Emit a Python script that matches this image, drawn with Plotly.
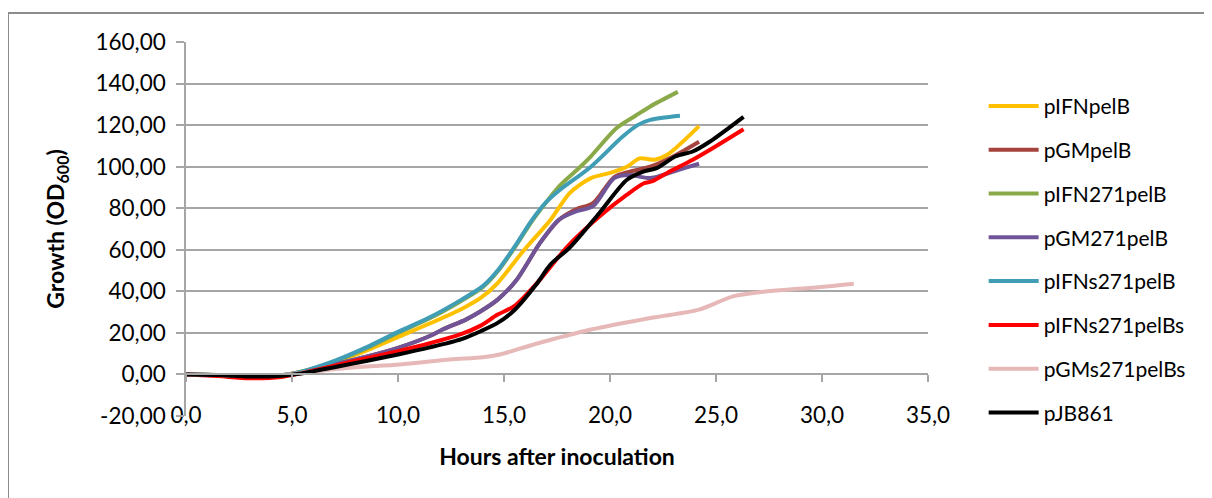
import plotly.graph_objects as go

# ---------------------------------------------------------------------
# Data (hours, OD600)
# ---------------------------------------------------------------------
series_names = [
    "pIFNpelB", "pGMpelB", "pIFN271pelB", "pGM271pelB",
    "pIFNs271pelB", "pIFNs271pelBs", "pGMs271pelBs", "pJB861",
]

t_ifn = [0, 1.5, 3, 4.5, 5.5, 7, 8.5, 10, 11.5, 13, 13.9, 14.7, 15.7, 16.1,
         17.2, 18.1, 19.1, 20, 20.8, 21.4, 22.1, 22.7, 24.2]
v_ifn = [0, -0.3, -0.8, -0.4, 1.4, 5.8, 11.5, 18, 24.5, 31.5, 36.8, 44, 56.8,
         61.7, 74.5, 87.3, 94.5, 97, 100, 104, 103.3, 105.7, 119.5]

t_gm = [0, 1.5, 3, 4.5, 5.5, 7, 8.5, 10, 11.5, 12.1, 13.2, 13.9, 14.7, 15.6,
        16.7, 17.6, 18.4, 19.2, 20.2, 20.9, 21.9, 23.0, 24.2]
v_gm = [0, -0.3, -0.9, -0.5, 1.2, 4.8, 8.5, 12.8, 18.5, 21.6, 26.4, 30.4, 36,
        45.6, 63.3, 74.5, 79.5, 82.5, 95, 97.5, 100, 105, 112]

t_ifn271 = [0, 1.5, 3, 4.5, 5.5, 7, 8.5, 10, 11.5, 13, 14, 14.7, 15.6, 16.3,
            17, 17.6, 18.5, 19.1, 20.3, 21.2, 21.9, 23.2]
v_ifn271 = [0, -0.3, -0.8, -0.4, 1.4, 6.2, 12.5, 20, 27, 35.5, 42, 49.5, 62.5,
            73.5, 83, 90.5, 99, 105, 118.5, 124.5, 129, 136]

t_gm271 = [0, 1.5, 3, 4.5, 5.5, 7, 8.5, 10, 11.5, 12.1, 13.2, 13.9, 14.7, 15.6,
           16.7, 17.6, 18.4, 19.2, 20.2, 20.9, 21.9, 23.5, 24.2]
v_gm271 = [0, -0.3, -0.9, -0.5, 1.2, 4.8, 8.5, 12.8, 18.5, 21.6, 26.4, 30.4, 36,
           45.6, 63.3, 74.5, 78.5, 81, 94.5, 96, 94.5, 99.3, 101.4]

t_ifns271 = [0, 1.5, 3, 4.5, 5.5, 7, 8.5, 10, 11.5, 13, 14, 14.7, 15.6, 16.3,
             17, 17.6, 19.1, 20.6, 21.3, 21.9, 23.3]
v_ifns271 = [0, -0.3, -0.8, -0.4, 1.5, 6.5, 13, 20.5, 27.5, 36, 42.5, 50, 63,
             74, 83, 88.5, 100, 114.5, 120, 122.5, 124.5]

t_ifns271s = [0, 1.5, 3, 4.5, 5.5, 7, 8.5, 10, 11.5, 13, 13.9, 14.7, 15.5, 16.7,
              18, 19.5, 20.8, 21.6, 22, 22.7, 23.9, 24.7, 26.3]
v_ifns271s = [0, -0.8, -1.8, -1.2, 0.8, 4.2, 7.8, 11.2, 15, 19.5, 23.5, 28.8, 33,
              45.6, 61.7, 76, 86.5, 92, 93, 97, 103.3, 108, 118]

t_gms271s = [0, 1.5, 3, 4.5, 5.5, 7.7, 10.1, 12.45, 14, 14.8, 16.4, 19.1, 21.9,
             24.2, 25.8, 27.4, 29.4, 31.5]
v_gms271s = [0, -0.3, -0.8, -0.4, 0.8, 3.2, 4.8, 7.2, 8.3, 9.6, 14.4, 21.6, 27.2,
             31.2, 37.6, 40, 41.6, 43.7]

t_jb861 = [0, 1.5, 3, 4.5, 5.5, 7, 8.5, 10, 11.5, 13, 13.9, 14.7, 15.5, 16.5,
           17.2, 18.1, 19.5, 20.8, 21.6, 22.2, 23.1, 23.9, 24.7, 26.3]
v_jb861 = [0, -0.3, -1, -0.6, 0.6, 3.5, 6.5, 9.6, 13, 17, 20.8, 24.8, 31, 43,
           53, 61, 77.7, 93.7, 97.7, 99.3, 105, 107.3, 112, 124]

x_ticks = [0, 5, 10, 15, 20, 25, 30, 35]
x_ticktext = ["0,0", "5,0", "10,0", "15,0", "20,0", "25,0", "30,0", "35,0"]
y_ticks = [-20, 0, 20, 40, 60, 80, 100, 120, 140, 160]
y_ticktext = ["-20,00", "0,00", "20,00", "40,00", "60,00", "80,00",
              "100,00", "120,00", "140,00", "160,00"]

colors = ["#FFC000", "#A5433F", "#8AAA4A", "#6F5597",
          "#3F9DB5", "#FF0000", "#E6B9B8", "#000000"]

times = [t_ifn, t_gm, t_ifn271, t_gm271, t_ifns271, t_ifns271s, t_gms271s, t_jb861]
values = [v_ifn, v_gm, v_ifn271, v_gm271, v_ifns271, v_ifns271s, v_gms271s, v_jb861]

FONT = "Lato, Calibri, sans-serif"
GRID = "#A6A6A6"

fig = go.Figure()
for i, name in enumerate(series_names):
    fig.add_scatter(
        x=times[i], y=values[i], name=name, mode="lines",
        line=dict(color=colors[i], width=4, shape="spline", smoothing=0.8),
        legendgroup=name,
    )

# axis line with ticks at y = 0 (Excel draws the category axis there)
fig.add_scatter(x=[None], y=[None], xaxis="x2", showlegend=False, hoverinfo="skip")

# the page body adds an 8px margin, so the figure is 8px smaller each way
fig.update_layout(
    width=1204, height=490,
    margin=dict(l=178, r=284, t=34, b=82, autoexpand=False),
    paper_bgcolor="white", plot_bgcolor="white",
    font=dict(family=FONT, size=22.5, color="#000000"),
    showlegend=True,
    legend=dict(
        x=1.075, y=0.883, xanchor="left", yanchor="top",
        font=dict(size=21, family=FONT), tracegroupgap=13.5, itemwidth=50,
        bgcolor="rgba(0,0,0,0)",
    ),
    xaxis=dict(
        range=[0, 35], tickvals=x_ticks, ticktext=x_ticktext,
        showgrid=False, showline=False, zeroline=False, ticks="",
        anchor="free", position=0.043, automargin=False,
        title=dict(text="<b>Hours after inoculation</b>",
                   font=dict(size=23, family=FONT), standoff=21),
    ),
    xaxis2=dict(
        range=[0, 35], tickvals=x_ticks, overlaying="x",
        anchor="free", position=20 / 180, side="bottom", automargin=False,
        showgrid=False, zeroline=False, showticklabels=False,
        showline=True, linecolor=GRID, linewidth=1.5,
        ticks="outside", ticklen=7, tickcolor=GRID, tickwidth=1.5,
    ),
    yaxis=dict(
        range=[-20, 160], tickvals=y_ticks, ticktext=y_ticktext,
        showgrid=True, gridcolor=GRID, gridwidth=1.5, automargin=False,
        zeroline=False, showline=True, linecolor=GRID, linewidth=1.5,
        ticks="outside", ticklen=8, tickcolor=GRID, tickwidth=1.5,
        ticklabelstandoff=6,
        title=dict(text="<b>Growth (OD<sub>600</sub>)</b>",
                   font=dict(size=23, family=FONT), standoff=24),
    ),
)

# outer chart frame
fig.add_shape(
    type="rect", xref="paper", yref="paper",
    x0=0 / 742 - 178 / 742, x1=(1230 - 178) / 742,
    y0=(408 - 520) / 374, y1=(408 - 5) / 374,
    line=dict(color="#8C8C8C", width=2), layer="below",
)

fig.write_html("out.html")
